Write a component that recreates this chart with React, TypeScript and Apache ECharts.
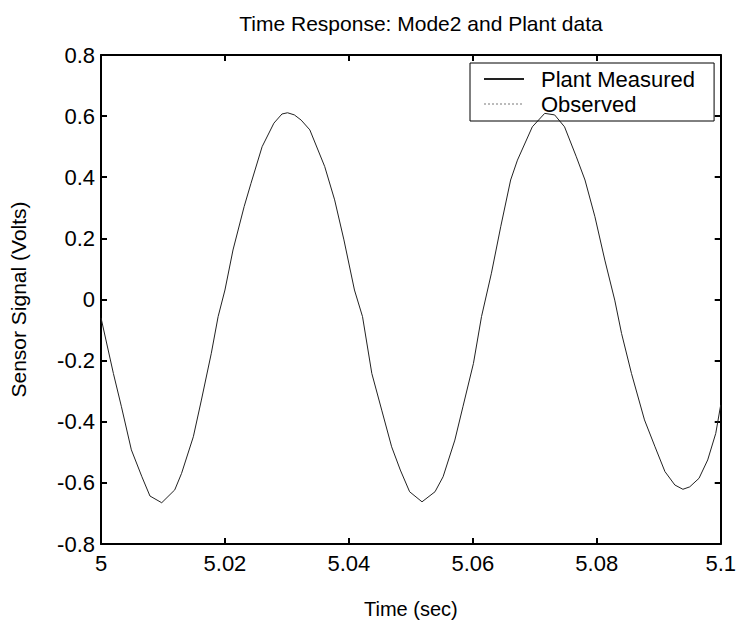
import React, { useEffect, useRef } from "react";
import * as echarts from "echarts";

const titleText = "Time Response: Mode2 and Plant data";
const xName = "Time (sec)";
const yName = "Sensor Signal (Volts)";
const seriesNames = ["Plant Measured", "Observed"];

const time = [
  5.0, 5.002, 5.0033, 5.0049, 5.0066, 5.0079, 5.0098, 5.0119, 5.013, 5.0149,
  5.0162, 5.0178, 5.0189, 5.02, 5.0213, 5.0231, 5.0242, 5.026, 5.0279, 5.0292,
  5.0301, 5.0312, 5.0323, 5.0337, 5.0361, 5.0377, 5.0392, 5.0409, 5.0422, 5.0437,
  5.0453, 5.0469, 5.0483, 5.0498, 5.0518, 5.0539, 5.0552, 5.0571, 5.0584, 5.0601,
  5.0614, 5.063, 5.0645, 5.0661, 5.0672, 5.0696, 5.0716, 5.0732, 5.0748, 5.0767,
  5.0781, 5.0797, 5.0813, 5.0829, 5.084, 5.0856, 5.0877, 5.0894, 5.091, 5.0926,
  5.0939, 5.095, 5.0965, 5.0979, 5.0992, 5.1,
];

const plantMeasured = [
  -0.06, -0.242, -0.351, -0.492, -0.58, -0.643, -0.665, -0.623, -0.569, -0.449,
  -0.329, -0.176, -0.056, 0.031, 0.162, 0.304, 0.38, 0.5, 0.577, 0.607,
  0.611, 0.604, 0.587, 0.555, 0.435, 0.326, 0.195, 0.031, -0.056, -0.242,
  -0.362, -0.482, -0.558, -0.629, -0.662, -0.629, -0.58, -0.46, -0.351, -0.209,
  -0.056, 0.086, 0.238, 0.391, 0.456, 0.565, 0.609, 0.604, 0.565, 0.467,
  0.391, 0.271, 0.129, -0.002, -0.111, -0.242, -0.394, -0.482, -0.563, -0.607,
  -0.621, -0.613, -0.585, -0.525, -0.438, -0.345,
];

const observed: number[][] = [];

const xMin = 5;
const xMax = 5.1;
const xStep = 0.02;
const yMin = -0.8;
const yMax = 0.8;
const yStep = 0.2;

const FONT = "'Liberation Sans', Arial, Helvetica, sans-serif";

export default function App() {
  const ref = useRef<HTMLDivElement>(null);

  useEffect(() => {
    if (!ref.current) return;
    const chart = echarts.init(ref.current, undefined, { renderer: "svg" });

    const axisLine = { show: true, onZero: false, lineStyle: { color: "#000", width: 2 } };
    const axisTick = { show: true, inside: true, length: 6, lineStyle: { color: "#000", width: 2 } };

    const fmtX = (v: number) => String(+v.toFixed(2));
    const fmtY = (v: number) => String(+v.toFixed(1));

    chart.setOption({
      animation: false,
      backgroundColor: "#fff",
      textStyle: { fontFamily: FONT },
      title: {
        text: titleText,
        left: 416,
        textAlign: "center",
        top: 8,
        textStyle: { fontFamily: FONT, fontSize: 21, fontWeight: "normal", color: "#000" },
      },
      grid: { left: 101, right: 18, top: 55, bottom: 81 },
      legend: {
        orient: "vertical",
        left: 470,
        top: 63,
        itemWidth: 40,
        itemHeight: 10,
        itemGap: 3,
        padding: [5, 19, 6, 13],
        borderColor: "#000",
        borderWidth: 1,
        backgroundColor: "transparent",
        data: seriesNames,
        itemStyle: { opacity: 0 },
        textStyle: { fontFamily: FONT, fontSize: 22, color: "#000", lineHeight: 22, padding: [0, 0, 0, 12] },
      },
      xAxis: [
        {
          type: "value",
          position: "bottom",
          min: xMin,
          max: xMax,
          interval: xStep,
          axisLine,
          axisTick,
          splitLine: { show: false },
          axisLabel: { fontFamily: FONT, fontSize: 22, color: "#000", margin: 8, formatter: fmtX },
          name: xName,
          nameLocation: "middle",
          nameGap: 55,
          nameTextStyle: { fontFamily: FONT, fontSize: 20, color: "#000" },
        },
        {
          type: "value",
          position: "top",
          min: xMin,
          max: xMax,
          interval: xStep,
          axisLine,
          axisTick,
          splitLine: { show: false },
          axisLabel: { show: false },
        },
      ],
      yAxis: [
        {
          type: "value",
          position: "left",
          min: yMin,
          max: yMax,
          interval: yStep,
          axisLine,
          axisTick,
          splitLine: { show: false },
          axisLabel: { fontFamily: FONT, fontSize: 22, color: "#000", margin: 6, formatter: fmtY },
          name: yName,
          nameLocation: "middle",
          nameGap: 72,
          nameTextStyle: { fontFamily: FONT, fontSize: 21, color: "#000" },
        },
        {
          type: "value",
          position: "right",
          min: yMin,
          max: yMax,
          interval: yStep,
          axisLine,
          axisTick,
          splitLine: { show: false },
          axisLabel: { show: false },
        },
      ],
      series: [
        {
          name: seriesNames[0],
          type: "line",
          xAxisIndex: 0,
          yAxisIndex: 0,
          symbol: "none",
          data: time.map((t, i) => [t, plantMeasured[i]]),
          lineStyle: { color: "#222", width: 1 },
          itemStyle: { color: "#222" },
        },
        {
          name: seriesNames[1],
          type: "line",
          xAxisIndex: 0,
          yAxisIndex: 0,
          symbol: "none",
          data: observed,
          lineStyle: { color: "#bbb", width: 1, type: "dotted" },
          itemStyle: { color: "#bbb" },
        },
      ],
    });

    return () => chart.dispose();
  }, []);

  return (
    <div
      ref={ref}
      style={{ position: "fixed", left: 0, top: 0, width: 739, height: 625, background: "#fff" }}
    />
  );
}
